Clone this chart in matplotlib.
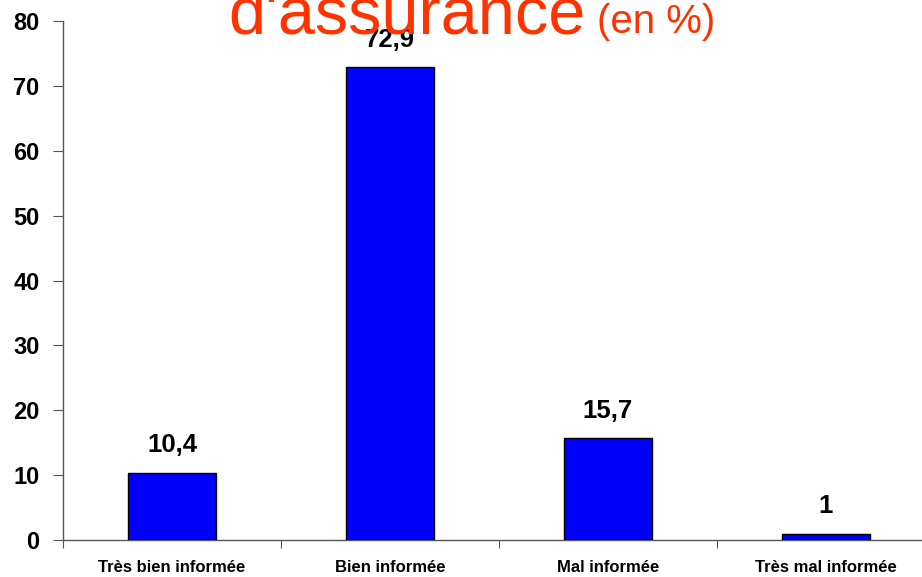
import numpy as np
import matplotlib
matplotlib.use("Agg")
from matplotlib import pyplot as plt

categories = ["Très bien informée", "Bien informée", "Mal informée", "Très mal informée"]
values = [10.4, 72.9, 15.7, 1.0]
value_labels = ["10,4", "72,9", "15,7", "1"]
y_ticks = [0, 10, 20, 30, 40, 50, 60, 70, 80]

plt.rcParams['font.family'] = ['Liberation Sans', 'DejaVu Sans']

W, H = 922, 577
fig = plt.figure(figsize=(W / 100, H / 100), dpi=100)
# axes box runs past the right edge of the picture, as in the original slide
ax = fig.add_axes([63 / W, 37 / H, 872 / W, 519 / H])

x = np.arange(len(categories))
ax.bar(x, values, width=0.4, color='#0000FF', edgecolor='black', linewidth=1.0, zorder=3)

for xi, v, lab in zip(x, values, value_labels):
    ax.annotate(lab, (xi, v), xytext=(0, 11), textcoords='offset points',
                ha='center', va='bottom', fontsize=18.5, fontweight='bold')

ax.set_xlim(-0.5, 3.5)
ax.set_ylim(0, 80)
ax.set_yticks(y_ticks)
ax.set_yticklabels([str(t) for t in y_ticks], fontsize=17, fontweight='bold')

# category labels between the boundary ticks
ax.set_xticks(x - 0.5)
ax.set_xticklabels([])
ax.tick_params(axis='x', direction='out', length=6, color='#555555')
ax.tick_params(axis='y', direction='out', length=7, color='#555555', pad=10)
for xi, c in zip(x, categories):
    ax.text(xi, -4.3, c, ha='center', va='center', fontsize=12, fontweight='bold')

for s in ['top', 'right']:
    ax.spines[s].set_visible(False)
for s in ['left', 'bottom']:
    ax.spines[s].set_color('#555555')
    ax.spines[s].set_linewidth(1.0)

# bottom line of the slide title, the rest is cut off above the picture
fig.text(228 / W, 1 - 33 / H, "d'assurance", color='#FF3300', fontsize=48,
         ha='left', va='baseline')
fig.text(597 / W, 1 - 33 / H, "(en %)", color='#FF3300', fontsize=29,
         ha='left', va='baseline')

fig.savefig("out.png", dpi=100)
